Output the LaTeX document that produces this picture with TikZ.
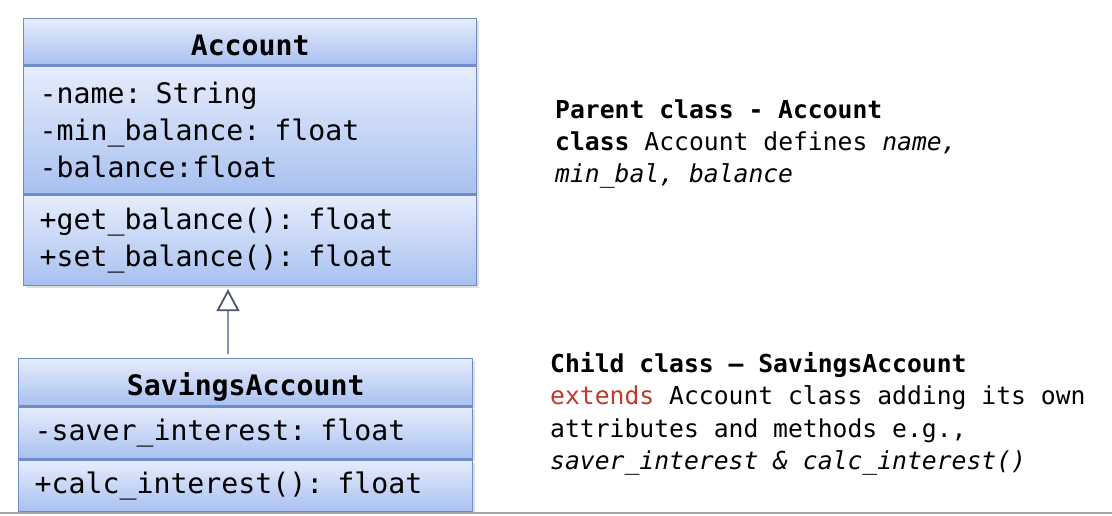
\documentclass[tikz,border=0pt]{standalone}
\usepackage{fontspec}
\setmonofont{DejaVu Sans Mono}
\usetikzlibrary{arrows.meta,positioning,shadows}

\definecolor{umlTop}{RGB}{230,237,252}
\definecolor{umlBot}{RGB}{168,192,240}
\definecolor{umlLine}{RGB}{110,140,200}
\definecolor{arrowLine}{RGB}{125,148,185}
\definecolor{arrowHead}{RGB}{75,85,105}
\definecolor{extRed}{RGB}{192,57,43}

\tikzset{
    compart/.style={draw=umlLine, line width=1.4pt, top color=umlTop, bottom color=umlBot,
        inner xsep=16pt, inner ysep=0pt,
        drop shadow={shadow xshift=2pt, shadow yshift=-2pt, opacity=0.25},
        font=\ttfamily\fontsize{28.2}{37}\selectfont},
    header/.style={compart, align=center, text height=27pt, text depth=0pt,
        font=\ttfamily\bfseries\fontsize{28.2}{37}\selectfont},
    members/.style={compart, align=left},
    note/.style={anchor=base west, inner sep=0pt, align=left,
        font=\ttfamily\fontsize{24.7}{32.5}\selectfont},
    generalize/.style={draw=arrowLine, line width=1.5pt,
        -{Triangle[open, length=22pt, width=23pt, line width=1.8pt, color=arrowHead, fill=white]},
        shorten <=4pt, shorten >=3pt}
}

\begin{document}
\begin{tikzpicture}[x=1pt, y=-1pt, node distance=0pt]
        \useasboundingbox (0,0) rectangle (1112,516);
        % Parent class
        \node[header, anchor=north west, text width=421pt, minimum height=46pt] (acchead) at (23,18) {Account};
        \node[members, below=of acchead, text width=421pt, minimum height=128pt] (accattr)
            {-name: String\\-min\_balance: float\\-balance:float};
        \node[members, below=of accattr, text width=421pt, minimum height=90pt] (accmeth)
            {+get\_balance(): float\\+set\_balance(): float};
        % Child class
        \node[header, anchor=north west, text width=422pt, minimum height=47pt] (savhead) at (18,358) {SavingsAccount};
        \node[members, below=of savhead, text width=422pt, minimum height=52pt] (savattr)
            {-saver\_interest: float};
        \node[members, below=of savattr, text width=422pt, minimum height=51pt] (savmeth)
            {+calc\_interest(): float};
        % Inheritance arrow
        \coordinate (inhx) at (228,0);
        \draw[generalize] (savhead.north -| inhx) -- (accmeth.south -| inhx);
        % Notes (anchored at the baseline of the last line)
        \node[note] (parentnote) at (555,183)
            {\textbf{Parent class - Account}\\\textbf{class} Account defines \textit{name,}\\\textit{min\_bal, balance}};
        \node[note] (childnote) at (550,469.5)
            {\textbf{Child class – SavingsAccount}\\\textcolor{extRed}{extends} Account class adding its own\\attributes and methods e.g.,\\\textit{saver\_interest \& calc\_interest()}};
        % Bottom rule
        \draw[black!35, line width=2pt] (0,513) -- (1112,513);
\end{tikzpicture}
\end{document}
